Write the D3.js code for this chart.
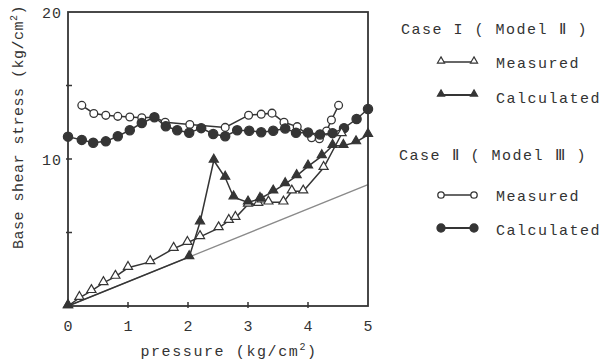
<!DOCTYPE html>
<html>
<head>
<meta charset="utf-8">
<script src="https://cdn.jsdelivr.net/npm/d3@7.9.0/dist/d3.min.js"></script>
<style>
  body { margin: 0; background: #fff; }
  svg text { font-family: 'Liberation Mono', 'DejaVu Sans Mono', monospace; fill: #333; }
</style>
</head>
<body>
<svg id="chart" width="607" height="363"></svg>
<script>
// Case I (Model II) - measured, open triangles
const case1MeasuredX = [0, 0.19, 0.39, 0.59, 0.79, 1.0, 1.37, 1.76, 1.99, 2.2, 2.51, 2.68, 2.79, 3.0, 3.17, 3.23, 3.34, 3.59, 3.73, 3.92, 4.26, 4.56];
const case1MeasuredY = [0, 0.56, 1.03, 1.57, 2.0, 2.6, 3.0, 3.9, 4.3, 4.7, 5.3, 5.8, 6.0, 6.9, 6.95, 7.2, 7.05, 7.05, 7.8, 7.8, 9.4, 11.7];

// Case I (Model II) - calculated, filled triangles
const case1CalcX = [0, 2.02, 2.2, 2.43, 2.62, 2.76, 3.0, 3.2, 3.42, 3.62, 3.81, 4.0, 4.23, 4.41, 4.59, 4.8, 5.0];
const case1CalcY = [0, 3.33, 5.7, 9.9, 8.74, 7.4, 7.05, 7.3, 7.8, 8.3, 8.85, 9.5, 10.2, 10.9, 10.9, 11.15, 11.65];

// Case II (Model III) - measured, open circles
const case2MeasuredX = [0.23, 0.43, 0.63, 0.83, 1.03, 1.23, 1.44, 1.62, 2.03, 2.62, 3.01, 3.22, 3.4, 3.6, 3.82, 4.06, 4.19, 4.31, 4.39, 4.51];
const case2MeasuredY = [13.65, 13.1, 12.97, 12.9, 12.86, 12.8, 12.84, 12.5, 12.35, 12.15, 12.98, 13.05, 13.12, 12.5, 12.2, 11.45, 11.38, 11.9, 12.65, 13.65];

// Case II (Model III) - calculated, filled circles
const case2CalcX = [0, 0.23, 0.42, 0.63, 0.83, 1.03, 1.23, 1.44, 1.63, 1.82, 2.02, 2.22, 2.42, 2.62, 2.82, 3.02, 3.22, 3.42, 3.62, 3.8, 4.0, 4.2, 4.41, 4.6, 4.81, 5.0];
const case2CalcY = [11.52, 11.3, 11.1, 11.2, 11.55, 11.96, 12.45, 12.84, 12.23, 11.96, 11.78, 12.1, 11.7, 11.55, 11.95, 11.92, 11.82, 11.92, 12.08, 11.78, 11.8, 11.67, 11.76, 12.1, 12.72, 13.4];

// thin reference line
const refLineX = [0, 5];
const refLineY = [0, 8.25];

const xTicks = [0, 1, 2, 3, 4, 5];
const yTicks = [5, 10, 15, 20];
const yTickLabels = [10, 20];

const legendTitles = ['Case I ( Model Ⅱ )', 'Case Ⅱ ( Model Ⅲ )'];
const legendLabels = ['Measured', 'Calculated', 'Measured', 'Calculated'];

const ink = '#353535';
const svg = d3.select('#chart');

const x = d3.scaleLinear().domain([0, 5]).range([68, 368]);
const y = d3.scaleLinear().domain([0, 20]).range([306, 12]);

const zip = (xs, ys) => xs.map((v, i) => [v, ys[i]]);
const line = d3.line().x((d) => x(d[0])).y((d) => y(d[1]));

// reference line
svg.append('path')
  .attr('d', line(zip(refLineX, refLineY)))
  .attr('fill', 'none')
  .attr('stroke', '#8a8a8a')
  .attr('stroke-width', 1.3);

const tri = d3.symbol().type(d3.symbolTriangle).size(36);
const triLeg = d3.symbol().type(d3.symbolTriangle).size(22);

function drawSeries(pts, kind, filled) {
  svg.append('path')
    .attr('d', line(pts))
    .attr('fill', 'none')
    .attr('stroke', ink)
    .attr('stroke-width', 1.5);
  const g = svg.append('g');
  if (kind === 'tri') {
    g.selectAll('path')
      .data(pts)
      .enter()
      .append('path')
      .attr('d', tri)
      .attr('transform', (d) => `translate(${x(d[0])},${y(d[1]) - 1})`)
      .attr('fill', filled ? ink : '#fff')
      .attr('stroke', ink)
      .attr('stroke-width', 1.2);
  } else {
    g.selectAll('circle')
      .data(pts)
      .enter()
      .append('circle')
      .attr('cx', (d) => x(d[0]))
      .attr('cy', (d) => y(d[1]))
      .attr('r', filled ? 4.6 : 3.9)
      .attr('fill', filled ? ink : '#fff')
      .attr('stroke', ink)
      .attr('stroke-width', 1.3);
  }
}

drawSeries(zip(case2MeasuredX, case2MeasuredY), 'circle', false);
drawSeries(zip(case2CalcX, case2CalcY), 'circle', true);
drawSeries(zip(case1MeasuredX, case1MeasuredY), 'tri', false);
drawSeries(zip(case1CalcX, case1CalcY), 'tri', true);

// frame
svg.append('rect')
  .attr('x', x(0)).attr('y', y(20))
  .attr('width', x(5) - x(0)).attr('height', y(0) - y(20))
  .attr('fill', 'none')
  .attr('stroke', ink)
  .attr('stroke-width', 1.8);

// x ticks and labels
svg.append('g').selectAll('line')
  .data(xTicks.slice(1, -1))
  .enter().append('line')
  .attr('x1', (d) => x(d)).attr('x2', (d) => x(d))
  .attr('y1', y(0) - 4).attr('y2', y(0) + 2)
  .attr('stroke', ink).attr('stroke-width', 1.5);

svg.append('g').selectAll('text')
  .data(xTicks)
  .enter().append('text')
  .attr('x', (d) => x(d))
  .attr('y', 331)
  .attr('text-anchor', 'middle')
  .attr('font-size', 15)
  .text((d) => d);

// y ticks and labels
svg.append('g').selectAll('line')
  .data(yTicks.slice(0, -1))
  .enter().append('line')
  .attr('x1', x(0) - 2).attr('x2', x(0) + 4)
  .attr('y1', (d) => y(d)).attr('y2', (d) => y(d))
  .attr('stroke', ink).attr('stroke-width', 1.5);

svg.append('g').selectAll('text')
  .data(yTickLabels)
  .enter().append('text')
  .attr('x', 62)
  .attr('y', (d) => y(d) + 6)
  .attr('text-anchor', 'end')
  .attr('font-size', 15)
  .attr('letter-spacing', 1)
  .text((d) => d);

// axis titles
const xt = svg.append('text')
  .attr('x', 229).attr('y', 356)
  .attr('text-anchor', 'middle')
  .attr('font-size', 15)
  .attr('letter-spacing', 1.6)
  .text('pressure (kg/cm');
xt.append('tspan').attr('dy', -6).attr('font-size', 10).text('2');
xt.append('tspan').attr('dy', 6).text(')');

const yt = svg.append('text')
  .attr('transform', 'translate(23,127) rotate(-90)')
  .attr('text-anchor', 'middle')
  .attr('font-size', 15)
  .attr('letter-spacing', 0.5)
  .text('Base shear stress (kg/cm');
yt.append('tspan').attr('dy', -6).attr('font-size', 10).text('2');
yt.append('tspan').attr('dy', 6).text(')');

// legend
const titleY = [34, 160];
svg.append('g').selectAll('text')
  .data(legendTitles)
  .enter().append('text')
  .attr('x', (d, i) => (i === 0 ? 401 : 399))
  .attr('y', (d, i) => titleY[i])
  .attr('font-size', 15)
  .attr('letter-spacing', 1.5)
  .text((d) => d);

const legRows = [
  { y: 62, kind: 'tri', filled: false, ty: 68 },
  { y: 95, kind: 'tri', filled: true, ty: 103 },
  { y: 195, kind: 'circle', filled: false, ty: 201 },
  { y: 228, kind: 'circle', filled: true, ty: 235 }
];

legRows.forEach((r, i) => {
  const g = svg.append('g');
  g.append('line')
    .attr('x1', 441).attr('x2', 474)
    .attr('y1', r.y).attr('y2', r.y)
    .attr('stroke', ink).attr('stroke-width', r.filled ? 1.8 : 1.3);
  [441, 474].forEach((px) => {
    if (r.kind === 'tri') {
      g.append('path')
        .attr('d', triLeg)
        .attr('transform', `translate(${px},${r.y - 1})`)
        .attr('fill', r.filled ? ink : '#fff')
        .attr('stroke', ink).attr('stroke-width', 1.2);
    } else {
      g.append('circle')
        .attr('cx', px).attr('cy', r.y)
        .attr('r', r.filled ? 4 : 3.2)
        .attr('fill', r.filled ? ink : '#fff')
        .attr('stroke', ink).attr('stroke-width', 1.3);
    }
  });
  g.append('text')
    .attr('x', 496).attr('y', r.ty)
    .attr('font-size', 15)
    .attr('letter-spacing', 1.5)
    .text(legendLabels[i]);
});
</script>
</body>
</html>
